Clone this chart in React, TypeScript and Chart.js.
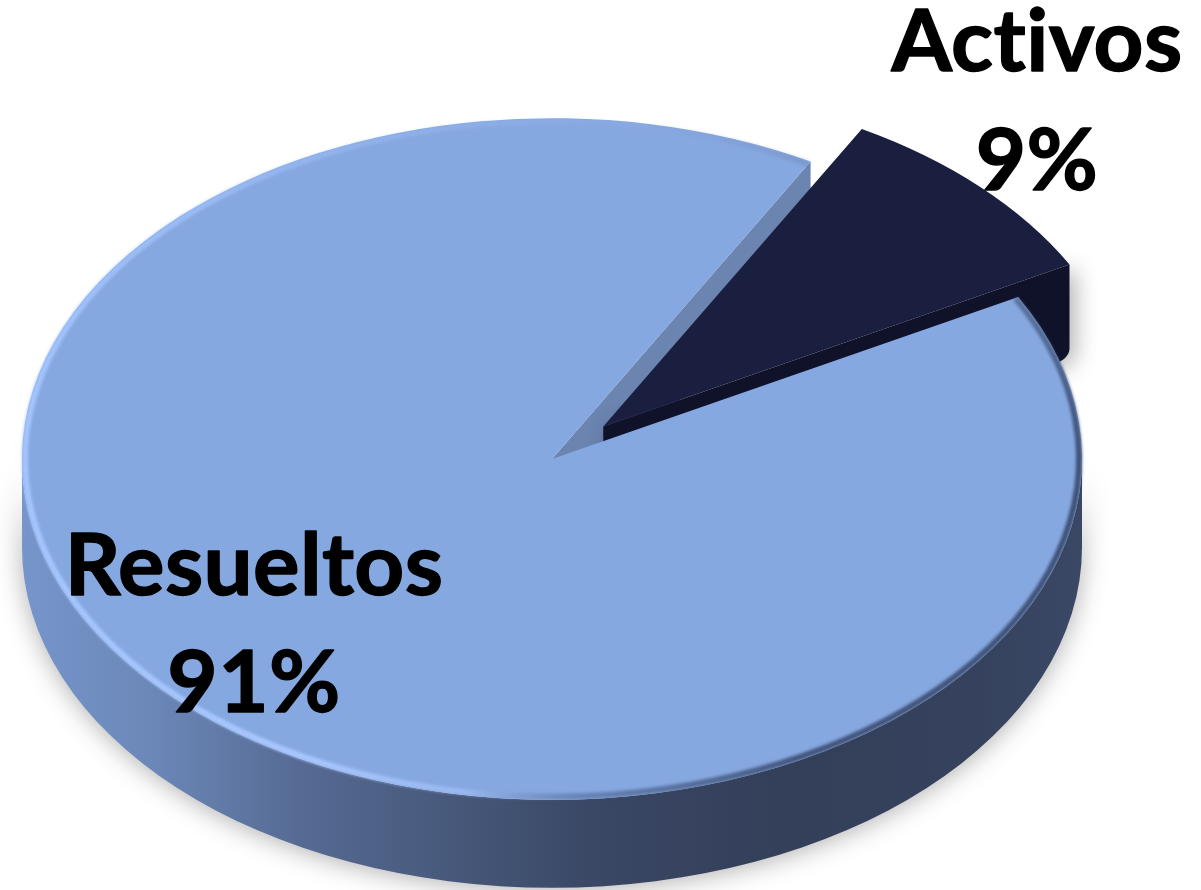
import React, { useEffect, useRef } from "react";
import { Chart, registerables } from "chart.js";

Chart.register(...registerables);

const categories = ["Activos", "Resueltos"];
const values = [9, 91];
const percentLabels = ["9%", "91%"];
const sliceColors = ["#1a1f3f", "#86a8e0"];

const ROTATION = 29.2;
const SQUASH = 0.643;
const DEPTH = 88;
const DARK_DEPTH = 96;
const RADIUS = 530;
const EXPLODE = 72;

const wallStops: [number, string][] = [
  [0, "#7695ca"],
  [0.12, "#6c88b9"],
  [0.26, "#566b94"],
  [0.44, "#435474"],
  [0.55, "#394664"],
  [0.72, "#343f59"],
  [0.9, "#36425d"],
  [1, "#3a4866"],
];

const labelPlacement = [
  { x: 1037, lines: [71, 190] },
  { x: 254, lines: [595, 712] },
];

const pie3d = {
  id: "pie3d",
  beforeDatasetsDraw(chart: any) {
    const ctx: CanvasRenderingContext2D = chart.ctx;
    const [dark, big] = chart.getDatasetMeta(0).data as any[];
    const cx = big.x;
    const cy = big.y;
    const r = big.outerRadius;
    const ry = r * SQUASH;
    const pt = (x0: number, y0: number, a: number, rad: number) => ({
      x: x0 + Math.cos(a) * rad,
      y: y0 + Math.sin(a) * rad * SQUASH,
    });
    const mid = (dark.startAngle + dark.endAngle) / 2;
    const ex = Math.cos(mid) * EXPLODE;
    const ey = Math.sin(mid) * EXPLODE;
    const apex = { x: cx + ex, y: cy + ey * SQUASH };

    // inner radial wall of the large slice, visible in the gap
    const p = pt(cx, cy, big.endAngle, r);
    ctx.save();
    ctx.fillStyle = "#6b84b0";
    ctx.beginPath();
    ctx.moveTo(cx, cy);
    ctx.lineTo(p.x, p.y);
    ctx.lineTo(p.x, p.y + DEPTH);
    ctx.lineTo(cx, cy + DEPTH);
    ctx.closePath();
    ctx.fill();
    ctx.restore();

    // radial wall of the exploded slice
    const e = pt(apex.x, apex.y, dark.endAngle, r);
    ctx.save();
    ctx.shadowColor = "rgba(0,0,0,0.3)";
    ctx.shadowBlur = 22;
    ctx.shadowOffsetX = 6;
    ctx.shadowOffsetY = 4;
    ctx.fillStyle = "#10122a";
    ctx.beginPath();
    ctx.moveTo(apex.x, apex.y);
    ctx.lineTo(e.x, e.y);
    ctx.lineTo(e.x, e.y + DARK_DEPTH - 12);
    ctx.quadraticCurveTo(e.x, e.y + DARK_DEPTH - 2, e.x - 16, e.y + DARK_DEPTH + 4);
    ctx.lineTo(apex.x, apex.y + DARK_DEPTH);
    ctx.closePath();
    ctx.fill();
    ctx.restore();

    // outer wall of the large slice
    const wall = ctx.createLinearGradient(cx - r, 0, cx + r, 0);
    wallStops.forEach(([s, c]) => wall.addColorStop(s, c));
    ctx.save();
    ctx.shadowColor = "rgba(0,0,0,0.32)";
    ctx.shadowBlur = 26;
    ctx.shadowOffsetY = 2;
    ctx.fillStyle = wall;
    ctx.beginPath();
    ctx.ellipse(cx, cy, r, ry, 0, 0, Math.PI);
    ctx.lineTo(cx - r, cy + DEPTH);
    ctx.ellipse(cx, cy + DEPTH, r, ry, 0, Math.PI, 0, true);
    ctx.closePath();
    ctx.fill();
    ctx.restore();

    // top faces, drawn by the library's arc elements on a squashed context
    const squash = () => {
      ctx.translate(0, cy);
      ctx.scale(1, SQUASH);
      ctx.translate(0, -cy);
    };
    ctx.save();
    squash();
    ctx.translate(ex, ey);
    dark.draw(ctx);
    ctx.restore();
    ctx.save();
    squash();
    big.draw(ctx);
    ctx.restore();

    // bevel on the rim of the large slice
    const rim = (ctx as any).createConicGradient(0, cx, cy);
    rim.addColorStop(0, "rgba(50,66,100,0.85)");
    rim.addColorStop(0.14, "rgba(50,66,100,0.8)");
    rim.addColorStop(0.24, "rgba(60,80,120,0.4)");
    rim.addColorStop(0.29, "rgba(170,200,255,0.5)");
    rim.addColorStop(0.36, "rgba(170,200,255,0.95)");
    rim.addColorStop(0.52, "rgba(165,198,255,0.95)");
    rim.addColorStop(0.66, "rgba(165,198,255,0.35)");
    rim.addColorStop(0.76, "rgba(165,198,255,0.1)");
    rim.addColorStop(0.83, "rgba(120,140,190,0.2)");
    rim.addColorStop(0.96, "rgba(50,66,100,0.6)");
    rim.addColorStop(1, "rgba(50,66,100,0.85)");
    ctx.save();
    ctx.strokeStyle = rim;
    ctx.lineWidth = 6;
    (ctx as any).filter = "blur(1.5px)";
    ctx.beginPath();
    ctx.ellipse(cx, cy, r - 3, ry - 3, 0, big.startAngle, big.endAngle);
    ctx.stroke();
    ctx.restore();
    return false;
  },
  afterDraw(chart: any) {
    const ctx: CanvasRenderingContext2D = chart.ctx;
    ctx.save();
    ctx.fillStyle = "#000000";
    ctx.strokeStyle = "#000000";
    ctx.lineWidth = 1.4;
    ctx.lineJoin = "round";
    ctx.font = "bold 87px Lato";
    (ctx as any).letterSpacing = "0.4px";
    ctx.textAlign = "center";
    ctx.textBaseline = "alphabetic";
    categories.forEach((name, i) => {
      const place = labelPlacement[i];
      [name, percentLabels[i]].forEach((text, j) => {
        ctx.fillText(text, place.x, place.lines[j]);
        ctx.strokeText(text, place.x, place.lines[j]);
      });
    });
    ctx.restore();
  },
};

export default function App() {
  const ref = useRef<HTMLCanvasElement>(null);
  useEffect(() => {
    const chart = new Chart(ref.current as HTMLCanvasElement, {
      type: "pie",
      data: {
        labels: categories,
        datasets: [
          {
            data: values,
            backgroundColor: sliceColors,
            borderWidth: 0,
            clip: false,
          } as any,
        ],
      },
      options: {
        animation: false,
        responsive: false,
        rotation: ROTATION,
        radius: RADIUS,
        layout: { padding: { right: 97, top: 28 } },
        plugins: { legend: { display: false }, tooltip: { enabled: false } },
      } as any,
      plugins: [pie3d as any],
    });
    return () => chart.destroy();
  }, []);
  return (
    <div style={{ position: "absolute", left: 0, top: 0, background: "#ffffff" }}>
      <canvas ref={ref} width={1201} height={890} style={{ display: "block" }} />
    </div>
  );
}
